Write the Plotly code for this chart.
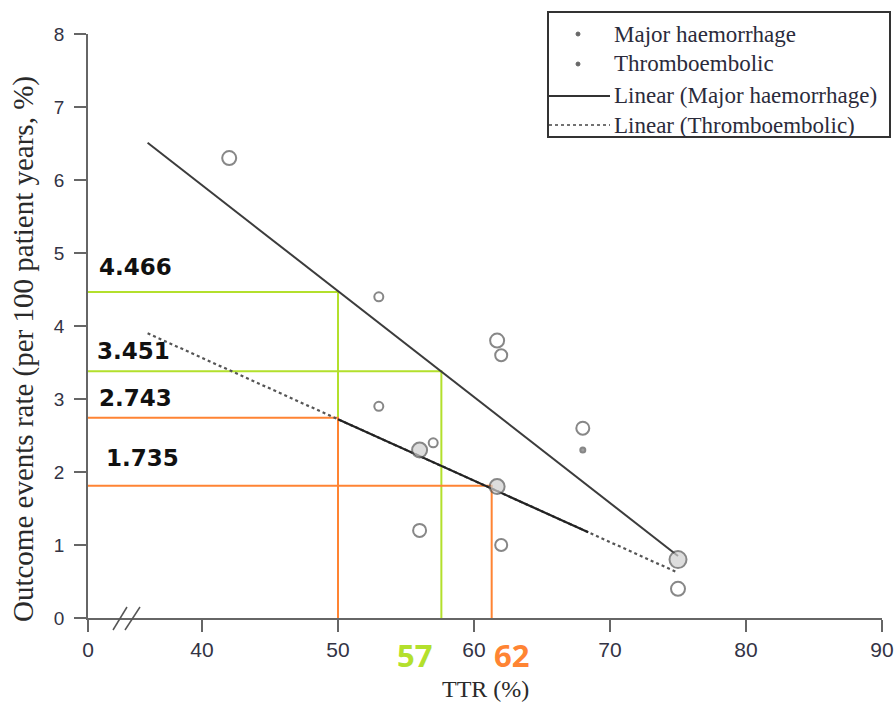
import plotly.graph_objects as go

# ---------------- data ----------------
mh_x = [42, 53, 61.7, 62, 68, 56, 75]
mh_y = [6.3, 4.4, 3.8, 3.6, 2.6, 2.3, 0.8]
te_x = [53, 57, 56, 61.7, 62, 68, 75]
te_y = [2.9, 2.4, 1.2, 1.8, 1.0, 2.3, 0.4]

trend_x = [36, 75]
trend_mh_y = [6.51, 0.85]
trend_te_y = [3.90, 0.62]
trend_te_solid_x = [50, 68.4]

guide_x = [50, 57.6, 50, 61.3]
guide_y = [4.466, 3.38, 2.743, 1.81]
guide_labels = ["4.466", "3.451", "2.743", "1.735"]
x_marks = ["57", "62"]

x_tick_labels = ["0", "40", "50", "60", "70", "80", "90"]
x_tick_values = [40, 50, 60, 70, 80, 90]
y_tick_values = [0, 1, 2, 3, 4, 5, 6, 7, 8]

legend_labels = ["Major haemorrhage", "Thromboembolic",
                 "Linear (Major haemorrhage)", "Linear (Thromboembolic)"]

# ---------------- styles ----------------
mh_sizes = [14, 9, 14, 12, 13, 15, 17]
mh_fill = ["white", "white", "white", "white", "white", "#cfcfcf", "#cfcfcf"]
te_sizes = [9, 9, 13, 15, 12, 5, 14]
te_fill = ["white", "white", "white", "#cfcfcf", "white", "#777777", "white"]
GREEN = "#b3e02c"
ORANGE = "#ff8433"
guide_colors = [GREEN, GREEN, ORANGE, ORANGE]

W, H = 896, 704
L, R, T, B = 88, 882, 34, 618
X_ZERO = 40 - (202 - 88) / 13.6  # display position of the broken-axis "0"


def px(xp):
    return (xp - L) / (R - L)


def py(yp):
    return (B - yp) / (B - T)


def trend_at(x, xs, ys):
    return ys[0] + (ys[1] - ys[0]) * (x - xs[0]) / (xs[1] - xs[0])


fig = go.Figure()

# guide lines
for gx, gy, c in zip(guide_x, guide_y, guide_colors):
    fig.add_trace(go.Scatter(x=[X_ZERO, gx, gx], y=[gy, gy, 0], mode="lines",
                             line=dict(color=c, width=2), hoverinfo="skip"))

# trend lines
fig.add_trace(go.Scatter(x=trend_x, y=trend_mh_y, mode="lines",
                         line=dict(color="#3c3c3c", width=2)))
fig.add_trace(go.Scatter(x=trend_x, y=trend_te_y, mode="lines",
                         line=dict(color="#555555", width=2.2, dash="dot")))
fig.add_trace(go.Scatter(x=trend_te_solid_x,
                         y=[trend_at(v, trend_x, trend_te_y) for v in trend_te_solid_x],
                         mode="lines", line=dict(color="#222222", width=2.2)))

# scatter points
fig.add_trace(go.Scatter(x=mh_x, y=mh_y, mode="markers",
                         marker=dict(size=mh_sizes, color=mh_fill,
                                     line=dict(color="#555555", width=2))))
fig.add_trace(go.Scatter(x=te_x, y=te_y, mode="markers",
                         marker=dict(size=te_sizes, color=te_fill,
                                     line=dict(color="#555555", width=2))))

shapes = []
annotations = []

# guide value labels
label_pos = [(97, 267), (95, 351), (97, 398), (104, 458)]
for (lx, ly), t in zip(label_pos, guide_labels):
    annotations.append(dict(x=px(lx), y=py(ly), xref="paper", yref="paper",
                            text="<b>%s</b>" % t, showarrow=False,
                            xanchor="left", yanchor="middle",
                            font=dict(family="DejaVu Sans", size=23, color="#111111")))
# 57 / 62 under axis
for (cx, cy), t, c in zip([(414, 655), (511, 655)], x_marks, [GREEN, ORANGE]):
    annotations.append(dict(x=px(cx), y=py(cy), xref="paper", yref="paper",
                            text="<b>%s</b>" % t, showarrow=False,
                            xanchor="center", yanchor="middle",
                            font=dict(family="Open Sans", size=31, color=c)))

# axis titles
annotations.append(dict(x=px(485), y=py(689), xref="paper", yref="paper",
                        text="TTR (%)", showarrow=False, xanchor="center", yanchor="middle",
                        font=dict(family="Liberation Serif", size=24, color="#2a2a2a")))
annotations.append(dict(x=px(23), y=py(349), xref="paper", yref="paper",
                        text="Outcome events rate (per 100 patient years, %)",
                        showarrow=False, textangle=-90, xanchor="center", yanchor="middle",
                        font=dict(family="Liberation Serif", size=29, color="#2a2a2a")))

# axis break marks
for x0, x1 in [(113, 127), (125, 140)]:
    shapes.append(dict(type="line", xref="paper", yref="paper",
                       x0=px(x0), y0=py(630), x1=px(x1), y1=py(607),
                       line=dict(color="#555555", width=1.5)))

# legend (drawn manually)
shapes.append(dict(type="rect", xref="paper", yref="paper",
                   x0=px(548), x1=px(890), y0=py(12), y1=py(137),
                   line=dict(color="#333333", width=2), fillcolor="white", layer="above"))
rows = [34, 64, 96, 125]
for ry in rows[:2]:
    shapes.append(dict(type="circle", xref="paper", yref="paper",
                       x0=px(576), x1=px(580), y0=py(ry - 2), y1=py(ry + 2),
                       line=dict(color="#666666", width=1), fillcolor="#666666", layer="above"))
shapes.append(dict(type="line", xref="paper", yref="paper",
                   x0=px(549), x1=px(610), y0=py(rows[2]), y1=py(rows[2]),
                   line=dict(color="#333333", width=2), layer="above"))
shapes.append(dict(type="line", xref="paper", yref="paper",
                   x0=px(549), x1=px(610), y0=py(rows[3]), y1=py(rows[3]),
                   line=dict(color="#444444", width=1.5, dash="dot"), layer="above"))
for ry, t in zip(rows, legend_labels):
    annotations.append(dict(x=px(612), y=py(ry), xref="paper", yref="paper",
                            text=t, showarrow=False, xanchor="left", yanchor="middle",
                            font=dict(family="Liberation Serif", size=23, color="#2b2b3b")))

fig.update_layout(
    width=W, height=H,
    margin=dict(l=L, r=W - R, t=T, b=H - B, autoexpand=False),
    plot_bgcolor="white", paper_bgcolor="white",
    showlegend=False,
    shapes=shapes, annotations=annotations,
    xaxis=dict(range=[X_ZERO, 90], tickvals=[X_ZERO] + x_tick_values, ticktext=x_tick_labels,
               showline=True, linecolor="#666666", linewidth=1.5,
               ticks="outside", ticklen=12, tickwidth=1.5, tickcolor="#666666",
               showgrid=False, zeroline=False, automargin=False,
               tickfont=dict(family="Liberation Sans", size=21, color="#333344")),
    yaxis=dict(range=[0, 8], tickvals=y_tick_values,
               showline=True, linecolor="#666666", linewidth=1.5,
               ticks="outside", ticklen=12, tickwidth=1.5, tickcolor="#666666",
               showgrid=False, zeroline=False, ticklabelstandoff=6, automargin=False,
               tickfont=dict(family="Liberation Sans", size=19, color="#333344")),
)

# remove the browser's default 8px page margin so the figure sits at the window origin
fig.write_html("out.html", config={"displayModeBar": False},
               post_script="document.body.style.margin='0';document.body.style.overflow='hidden';")
